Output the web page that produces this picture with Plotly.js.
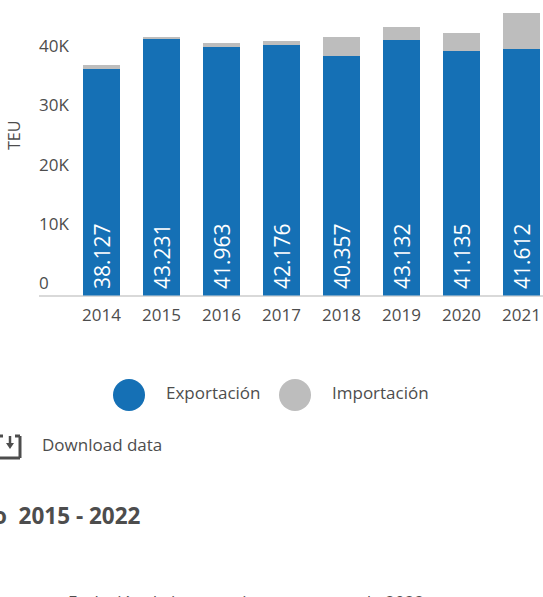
<!DOCTYPE html>
<html><head><meta charset="utf-8">
<script src="https://cdn.plot.ly/plotly-3.0.0.min.js"></script>
<style>html,body{margin:0;padding:0;background:#fff;overflow:hidden}</style>
</head><body><div id="chart" style="width:543px;height:597px"></div>
<script>
const years = ['2014','2015','2016','2017','2018','2019','2020','2021'];
const exportacion = [38127,43231,41963,42176,40357,43132,41135,41612];
const importacion = [675,340,675,675,3150,2150,3035,6070];
const exportLabels = ['38.127','43.231','41.963','42.176','40.357','43.132','41.135','41.612'];
const yTickValues = [0,10000,20000,30000,40000];
const yTickLabels = ['0','10K','20K','30K','40K'];
const W=543,H=597;
const px=x=>x/W, py=y=>1-y/H;
const font='"Open Sans", sans-serif', ink='#4d4d4d';
const note=(text,x,y,size,anchor,bold)=>({text:bold?'<b>'+text+'</b>':text,xref:'paper',yref:'paper',x:px(x),y:py(y),xanchor:anchor||'left',yanchor:'middle',showarrow:false,font:{family:font,size:size,color:ink}});
const circle=(cx,cy,r,c)=>({type:'circle',xref:'paper',yref:'paper',x0:px(cx-r),x1:px(cx+r),y0:py(cy+r),y1:py(cy-r),fillcolor:c,line:{width:0}});
const stroke=(x0,y0,x1,y1,w)=>({type:'line',xref:'paper',yref:'paper',x0:px(x0),x1:px(x1),y0:py(y0),y1:py(y1),line:{color:ink,width:w||3}});
const arrowHead={type:'path',xref:'paper',yref:'paper',path:`M ${px(6)} ${py(443)} L ${px(14)} ${py(443)} L ${px(10)} ${py(449)} Z`,fillcolor:ink,line:{width:0}};
Plotly.newPlot('chart',[
 {type:'bar',name:'Exportación',x:years,y:exportacion,marker:{color:'#1570b5'},text:exportLabels,texttemplate:'\u2009%{text}',textposition:'inside',insidetextanchor:'start',textangle:-90,insidetextfont:{family:font,size:21,color:'#fff'},constraintext:'none',hoverinfo:'x+y'},
 {type:'bar',name:'Importación',x:years,y:importacion,marker:{color:'#bdbdbd'},hoverinfo:'x+y'}
],{
 width:W,height:H,margin:{l:0,r:0,t:0,b:0},paper_bgcolor:'#fff',plot_bgcolor:'#fff',
 barmode:'stack',bargap:0.383,showlegend:false,font:{family:font,color:ink},
 xaxis:{domain:[px(39),1],type:'category',range:[-1.0417,7.358],showline:false,showgrid:false,zeroline:false,ticks:'',tickfont:{size:17,color:ink},ticklabelstandoff:7,automargin:false,fixedrange:true},
 yaxis:{domain:[py(295.5),1],range:[0,49800],tickvals:yTickValues,ticktext:yTickLabels,ticklabelposition:'inside',ticklabelstandoff:-3,showgrid:false,zeroline:true,zerolinecolor:'#d9d9d9',zerolinewidth:2,showline:false,ticks:'',tickfont:{size:17,color:ink},ticklabelshift:-12,automargin:false,fixedrange:true},
 annotations:[
  {...note('TEU',14,136,16,'center'),textangle:-90},
  note('Exportación',164,392,17),
  note('Importación',330,392,17),
  note('Download data',40,444,17),
  note('o  2015 - 2022',-9,515,22.5,'left',true),
  note('Exclusión de importaciones a agosto de 2022',66,601,17)
 ],
 shapes:[
  circle(129,395,16,'#1570b5'),circle(295,395,16,'#bdbdbd'),
  stroke(20,436,20,458),stroke(0,458,20,458),stroke(15,436,20,436),stroke(0,436,3,436),
  stroke(10,436,10,445,2.5),arrowHead
 ]
},{displayModeBar:false});
</script></body></html>
